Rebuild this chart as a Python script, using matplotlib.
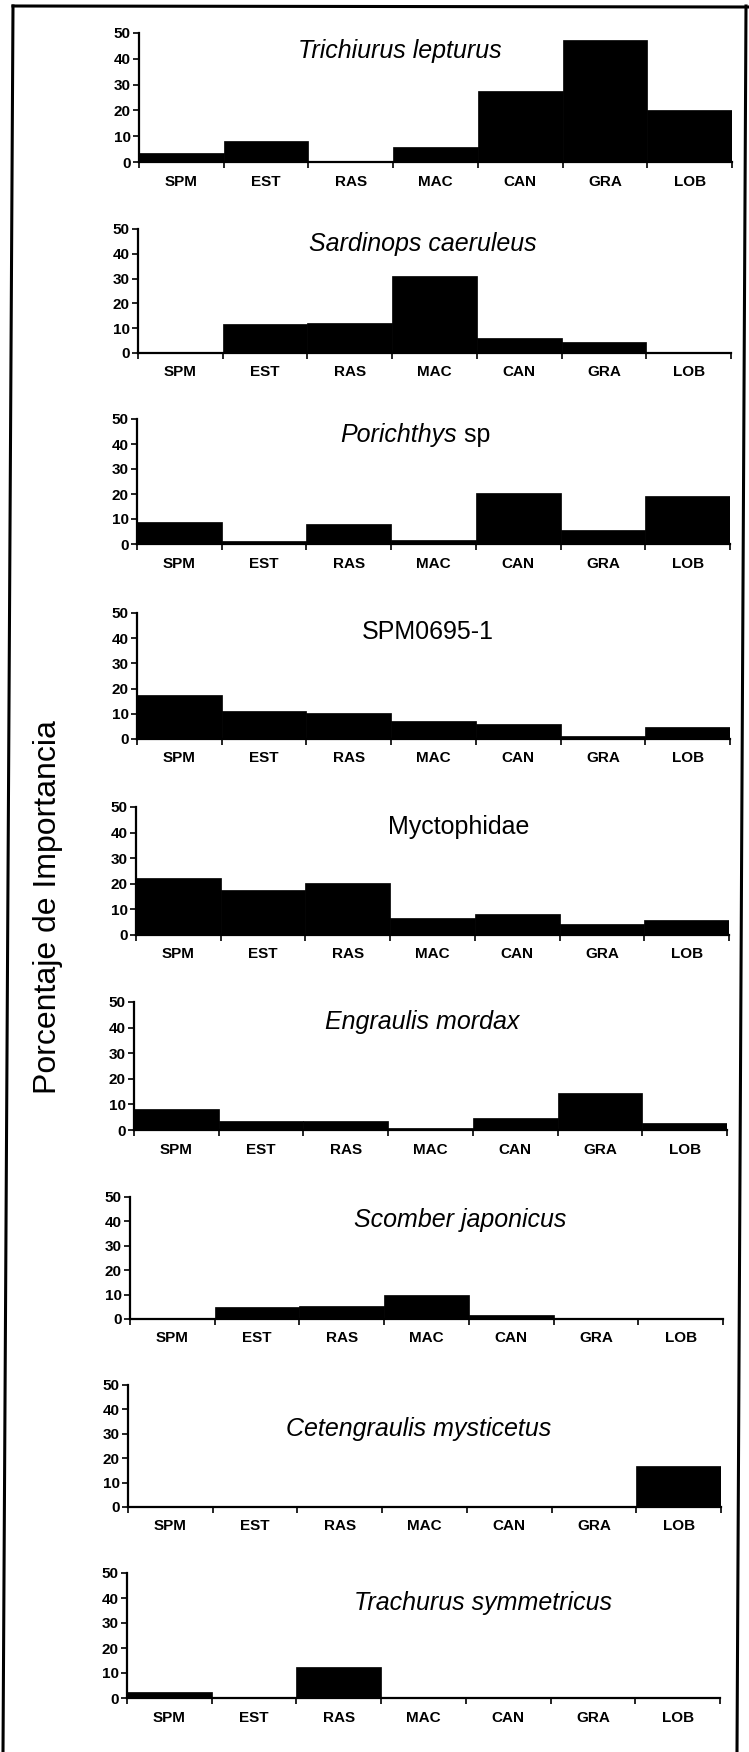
import matplotlib.pyplot as plt
from matplotlib.lines import Line2D

categories = ["SPM", "EST", "RAS", "MAC", "CAN", "GRA", "LOB"]

trichiurus = [3.3, 8.2, 0.5, 5.7, 27.6, 47.2, 20.0]
sardinops = [0.5, 11.7, 12.1, 31.2, 6.0, 4.4, 0.5]
porichthys = [8.8, 1.1, 8.0, 1.5, 20.3, 5.7, 19.2]
spm0695 = [17.6, 11.0, 10.3, 7.3, 6.1, 1.2, 4.9]
myctophidae = [22.3, 17.4, 20.4, 6.8, 8.3, 4.3, 6.0]
engraulis = [8.2, 3.6, 3.6, 0.6, 4.8, 14.3, 2.7]
scomber = [0.4, 4.8, 5.5, 9.7, 1.5, 0.4, 0.4]
cetengraulis = [0.4, 0.4, 0.4, 0.4, 0.4, 0.4, 16.8]
trachurus = [2.5, 0.5, 12.5, 0.4, 0.4, 0.4, 0.4]

# (name, suffix, values): suffix None -> upright name, "" -> italic name,
# otherwise italic name followed by an upright suffix
panels = [
    ("Trichiurus lepturus", "", trichiurus),
    ("Sardinops caeruleus", "", sardinops),
    ("Porichthys", " sp", porichthys),
    ("SPM0695-1", None, spm0695),
    ("Myctophidae", None, myctophidae),
    ("Engraulis mordax", "", engraulis),
    ("Scomber japonicus", "", scomber),
    ("Cetengraulis mysticetus", "", cetengraulis),
    ("Trachurus symmetricus", "", trachurus),
]

W, H = 749, 1752
zero_px = [162, 353, 544, 739, 935, 1130, 1319, 1507, 1698]
top_px = [33, 229, 419, 613, 807, 1002, 1197, 1385, 1573]
left_px = [139, 138, 137, 137, 136, 134, 130, 128, 127]
axw_px = 593
# x in axes fraction, y in data units
title_pos = [(0.44, 43), (0.48, 44), (0.50, 43.6), (0.49, 42.5), (0.545, 42),
             (0.486, 42), (0.556, 40.6), (0.49, 32), (0.60, 38)]

narrow = ["Liberation Sans Narrow", "Liberation Sans", "DejaVu Sans"]
sans = ["Liberation Sans", "DejaVu Sans"]

fig = plt.figure(figsize=(W / 100, H / 100), dpi=100)

for i, (name, suffix, vals) in enumerate(panels):
    ax = fig.add_axes([left_px[i] / W, 1 - zero_px[i] / H,
                       axw_px / W, (zero_px[i] - top_px[i]) / H])
    x = range(len(categories))
    ax.bar(x, vals, width=1.0, color="black", edgecolor="black", linewidth=0.5)
    ax.set_xlim(-0.5, len(categories) - 0.5)
    ax.set_ylim(0, 50)
    ax.set_yticks([0, 10, 20, 30, 40, 50])
    ax.set_xticks(list(x))
    ax.set_xticklabels(categories)
    ax.set_xticks([b - 0.5 for b in range(len(categories) + 1)], minor=True)
    ax.tick_params(axis="x", which="major", length=0, pad=9)
    ax.tick_params(axis="x", which="minor", length=4, width=1.2, direction="out")
    ax.tick_params(axis="y", length=4, width=1.2, pad=2)
    for lab in ax.get_xticklabels() + ax.get_yticklabels():
        lab.set_fontfamily(narrow)
        lab.set_fontweight("bold")
        lab.set_fontsize(11)
    for s in ("top", "right"):
        ax.spines[s].set_visible(False)
    for s in ("left", "bottom"):
        ax.spines[s].set_linewidth(1.6)

    tx, ty = title_pos[i]
    trans = ax.get_yaxis_transform()
    if suffix is None:
        ax.text(tx, ty, name, transform=trans, fontsize=18, family=sans,
                ha="center", va="center")
    elif suffix == "":
        ax.text(tx, ty, name, transform=trans, fontsize=18, family=sans,
                style="italic", ha="center", va="center")
    else:
        t1 = ax.text(tx + 0.04, ty, name, transform=trans, fontsize=18,
                     family=sans, style="italic", ha="right", va="center")
        ax.annotate(suffix, xy=(1, 0), xycoords=t1, fontsize=18, family=sans,
                    ha="left", va="bottom")

fig.text(48 / W, 1 - 907 / H, "Porcentaje de Importancia", rotation=90,
         fontsize=23, family=sans, ha="center", va="center")

# outer frame
frame = dict(color="black", linewidth=2.2, transform=fig.transFigure)
fig.add_artist(Line2D([13 / W, 3 / W], [1 - 6 / H, 0], **frame))
fig.add_artist(Line2D([13 / W, 1.0], [1 - 6 / H, 1 - 7 / H], **frame))
fig.add_artist(Line2D([746 / W, 737 / W], [1 - 6 / H, 0], **frame))

fig.savefig("out.png", dpi=100)
